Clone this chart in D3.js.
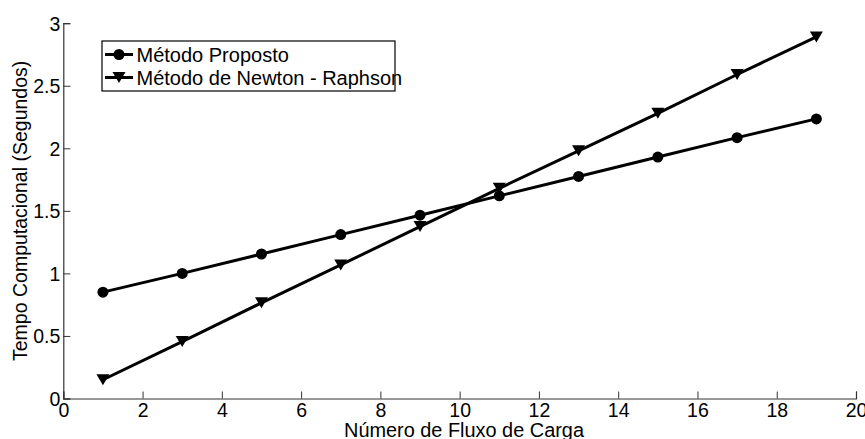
<!DOCTYPE html>
<html>
<head>
<meta charset="utf-8">
<script src="https://cdn.jsdelivr.net/npm/d3@7"></script>
<style>
  body { margin: 0; background: #fff; }
  svg { display: block; }
  text { font-family: "Liberation Sans", Arial, sans-serif; fill: #000; }
</style>
</head>
<body>
<div id="chart"></div>
<script>
const xValores = [1, 3, 5, 7, 9, 11, 13, 15, 17, 19];
const proposto = [0.85, 1.0, 1.155, 1.31, 1.465, 1.62, 1.775, 1.93, 2.085, 2.235];
const newton = [0.15, 0.455, 0.765, 1.068, 1.374, 1.68, 1.98, 2.28, 2.59, 2.89];
const xTicks = [0, 2, 4, 6, 8, 10, 12, 14, 16, 18, 20];
const yTicks = [0, 0.5, 1, 1.5, 2, 2.5, 3];
const nomes = ["Método Proposto", "Método de Newton - Raphson"];

const width = 865, height = 439;
const margin = { top: 23.2, right: 9, bottom: 40.5, left: 63.3 };
const fonte = 19.5;

const svg = d3.select("#chart").append("svg").attr("width", width).attr("height", height);

const xScale = d3.scaleLinear().domain([0, 20]).range([margin.left, width - margin.right]);
const yScale = d3.scaleLinear().domain([0, 3]).range([height - margin.bottom, margin.top]);

// eixos (ticks para dentro)
const eixoX = svg.append("g").attr("transform", `translate(0,${yScale(0)})`)
  .call(d3.axisBottom(xScale).tickValues(xTicks).tickSize(-7).tickPadding(0).tickFormat(d3.format("d")));
eixoX.selectAll("text").attr("y", 18.8).attr("dy", 0).style("font-size", fonte + "px").attr("fill", "#000");

const eixoY = svg.append("g").attr("transform", `translate(${xScale(0)},0)`)
  .call(d3.axisLeft(yScale).tickValues(yTicks).tickSize(-7).tickPadding(0).tickFormat(d3.format("")));
eixoY.selectAll("text").attr("x", -3).attr("dy", "0.35em").style("font-size", fonte + "px").attr("fill", "#000");

svg.selectAll(".domain").attr("stroke", "#333").attr("stroke-width", 1.2);
svg.selectAll(".tick line").attr("stroke", "#333");

// rótulos
svg.append("text").attr("x", 464).attr("y", 436.5)
  .attr("text-anchor", "middle").style("font-size", "19.9px").text("Número de Fluxo de Carga");
svg.append("text").attr("transform", `translate(27,${(yScale(0) + yScale(3)) / 2}) rotate(-90)`)
  .attr("text-anchor", "middle").style("font-size", fonte + "px").text("Tempo Computacional (Segundos)");

const line = d3.line().x((d, i) => xScale(xValores[i])).y((d) => yScale(d));
const triangulo = "M-6.5,-5.5L6.5,-5.5L0,5.5Z";

svg.append("path").datum(proposto).attr("fill", "none").attr("stroke", "#000").attr("stroke-width", 3).attr("d", line);
svg.append("path").datum(newton).attr("fill", "none").attr("stroke", "#000").attr("stroke-width", 3).attr("d", line);

svg.selectAll("circle.proposto").data(proposto).join("circle").attr("class", "proposto")
  .attr("cx", (d, i) => xScale(xValores[i])).attr("cy", (d) => yScale(d)).attr("r", 5.5).attr("fill", "#000");
svg.selectAll("path.newton").data(newton).join("path").attr("class", "newton")
  .attr("transform", (d, i) => `translate(${xScale(xValores[i])},${yScale(d)})`).attr("d", triangulo).attr("fill", "#000");

// legenda
const leg = svg.append("g").attr("transform", "translate(102,41)");
leg.append("rect").attr("width", 293).attr("height", 50).attr("fill", "#fff").attr("stroke", "#000").attr("stroke-width", 1.2);
nomes.forEach((nome, i) => {
  const y = 13.5 + i * 23;
  leg.append("line").attr("x1", 3).attr("x2", 31).attr("y1", y).attr("y2", y).attr("stroke", "#000").attr("stroke-width", 3);
  if (i === 0) leg.append("circle").attr("cx", 17).attr("cy", y).attr("r", 5.5).attr("fill", "#000");
  else leg.append("path").attr("transform", `translate(17,${y})`).attr("d", triangulo).attr("fill", "#000");
  leg.append("text").attr("x", 34.5).attr("y", y).attr("dy", "0.35em").style("font-size", "20px").text(nome);
});
</script>
</body>
</html>
